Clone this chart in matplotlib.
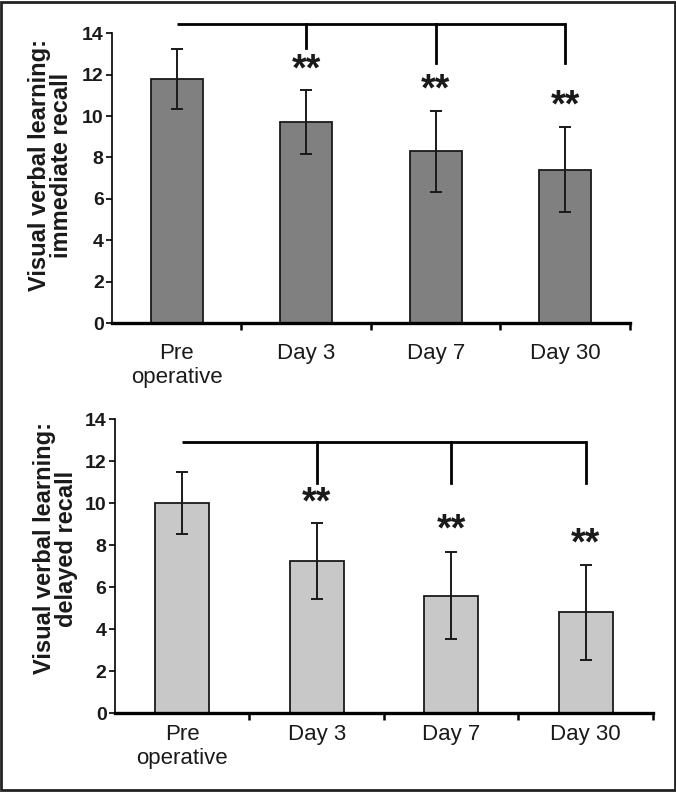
import matplotlib
matplotlib.use('Agg')
import matplotlib.pyplot as plt
from matplotlib.patches import Rectangle

plt.rcParams['font.family'] = ['Liberation Sans', 'DejaVu Sans']

# categories
groups = ['Pre\noperative', 'Day 3', 'Day 7', 'Day 30']

# immediate recall (top)
imm_mean = [11.8, 9.7, 8.3, 7.4]
imm_sd = [1.45, 1.55, 1.95, 2.05]
imm_star = [None, 11.35, 10.35, 9.6]
imm_bracket_top = 14.45
imm_bracket_drop = [None, 13.3, 12.55, 12.55]

# delayed recall (bottom)
del_mean = [10.0, 7.25, 5.6, 4.8]
del_sd = [1.48, 1.8, 2.05, 2.25]
del_star = [None, 9.15, 7.85, 7.15]
del_bracket_top = 12.9
del_bracket_drop = [None, 10.95, 10.95, 10.95]

fig = plt.figure(figsize=(6.76, 7.92), dpi=100)
ax1 = fig.add_axes([0.1657, 0.592, 0.766, 0.366])
ax2 = fig.add_axes([0.170, 0.0997, 0.796, 0.371])


def draw(ax, mean, sd, color, stars, btop, bdrop, ylabel, lab_xy, xpad):
    x = list(range(len(groups)))
    ax.bar(x, mean, width=0.4, color=color, edgecolor='#1a1a1a', linewidth=1.3, zorder=2)
    ax.errorbar(x, mean, yerr=sd, fmt='none', ecolor='#1a1a1a', elinewidth=1.4,
                capsize=4.5, capthick=1.4, zorder=3)
    ax.set_xlim(-0.5, 3.5)
    ax.set_ylim(0, 14)
    ax.set_yticks(range(0, 15, 2))
    ax.set_yticklabels([str(v) for v in range(0, 15, 2)], fontweight='bold', fontsize=14,
                       color='#1a1a1a')
    ax.set_xticks(x)
    ax.set_xticklabels(groups, fontsize=16, color='#1a1a1a')
    ax.tick_params(axis='x', length=0, pad=xpad)
    ax.set_xticks([0.5, 1.5, 2.5, 3.5], minor=True)
    ax.tick_params(axis='x', which='minor', length=5, width=1.8, direction='out')
    ax.tick_params(axis='y', length=4, width=1.2, direction='out', pad=2)
    for s in ['top', 'right']:
        ax.spines[s].set_visible(False)
    ax.spines['left'].set_linewidth(1.2)
    ax.spines['bottom'].set_linewidth(2.4)
    ax.set_ylabel(ylabel, fontsize=17, fontweight='bold', linespacing=0.95, color='#1a1a1a')
    ax.yaxis.set_label_coords(*lab_xy)
    # significance bracket
    ax.plot([0, 3], [btop, btop], color='black', lw=2.0, clip_on=False, solid_capstyle='butt')
    for i in range(1, 4):
        ax.plot([i, i], [btop, bdrop[i]], color='black', lw=2.0, clip_on=False)
        ax.text(i, stars[i], '**', ha='center', va='bottom', fontsize=27,
                fontweight='bold', color='#1a1a1a')


draw(ax1, imm_mean, imm_sd, '#808080', imm_star, imm_bracket_top, imm_bracket_drop,
     'Visual verbal learning:\nimmediate recall', (-0.075, 0.545), 14)
draw(ax2, del_mean, del_sd, '#c8c8c8', del_star, del_bracket_top, del_bracket_drop,
     'Visual verbal learning:\ndelayed recall', (-0.068, 0.56), 8)

# frame around the figure
fig.patches.append(Rectangle((0.002, 0.002), 0.996, 0.996, transform=fig.transFigure,
                             fill=False, edgecolor='#222222', linewidth=2))

fig.savefig('out.png', dpi=100)
